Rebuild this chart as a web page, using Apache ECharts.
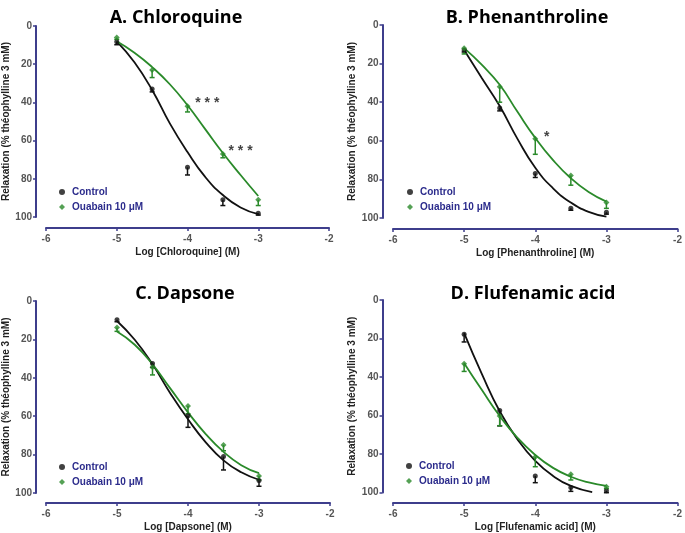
<!DOCTYPE html>
<html>
<head>
<meta charset="utf-8">
<script src="https://cdn.jsdelivr.net/npm/echarts@6/dist/echarts.min.js"></script>
<style>html,body{margin:0;padding:0;background:#fff}#c{width:685px;height:533px}</style>
</head>
<body>
<div id="c"></div>
<script>
// ---- data ----
const doseX = [-5, -4.5, -4, -3.5, -3];
const fitX = [-5, -4.75, -4.5, -4.25, -4, -3.75, -3.5, -3.25, -3];
const fitXDControl = [-5, -4.75, -4.5, -4.25, -4, -3.75, -3.5, -3.2];

const titles = ['A. Chloroquine', 'B. Phenanthroline', 'C. Dapsone', 'D. Flufenamic acid'];
const xNames = ['Log [Chloroquine] (M)', 'Log [Phenanthroline] (M)', 'Log [Dapsone] (M)', 'Log [Flufenamic acid] (M)'];
const yName = 'Relaxation (% théophylline 3 mM)';
const seriesNames = ['Control', 'Ouabain 10 μM'];
const xTicks = [-6, -5, -4, -3, -2];
const yTicks = [0, 20, 40, 60, 80, 100];

const ctrlA = [8.3, 33, 74, 91, 98];
const ouabA = [6, 23, 42, 67, 91];
const ctrlAErr = [1.5, 1.5, 4, 3, 1];
const ouabAErr = [1, 4, 3, 2, 3];
const ctrlAFit = [8, 19, 33.5, 51, 66, 79, 88.5, 95, 98.5];
const ouabAFit = [8, 14, 21.5, 30.5, 41.5, 54, 66.5, 78, 89];

const ctrlB = [13, 43, 77, 95, 97];
const ouabB = [12, 32, 59, 78, 92];
const ctrlBErr = [1, 1.5, 2, 1, 1];
const ouabBErr = [3, 8, 8, 5, 3];
const ctrlBFit = [13, 27.6, 42, 59, 74, 84.6, 92, 96.8, 99.3];
const ouabBFit = [12, 20.7, 31, 45, 58.5, 70, 79.4, 86.5, 91.5];

const ctrlC = [9.8, 32.6, 59.8, 81, 93.5];
const ouabC = [13.8, 34.5, 54.7, 75, 91.2];
const ctrlCErr = [1, 2, 6, 7, 3];
const ouabCErr = [2, 4, 4, 3, 2];
const ctrlCFit = [10.4, 20.2, 33, 48, 61.6, 73.6, 83, 89.2, 93.1];
const ouabCFit = [15.9, 22.8, 33, 45.5, 58, 69.3, 78.6, 85.5, 89.7];

const ctrlD = [17.8, 57.4, 91.4, 97.4, 99.1];
const ouabD = [33.1, 60.3, 81.6, 90.5, 97];
const ctrlDErr = [4, 8, 3.5, 2, 1];
const ouabDErr = [4, 5, 5, 3, 1];
const ctrlDFit = [17.2, 38.5, 57.8, 72.4, 83.6, 91.4, 96.6, 99.8];
const ouabDFit = [32.8, 46.8, 60.3, 71.6, 80.5, 87.2, 91.8, 94.8, 96.6];

const annotA = [[-3.72, 40.3, '* * *'], [-3.25, 65.3, '* * *']];
const annotB = [[-3.84, 58, '*']];
const annotC = [];
const annotD = [];

// ---- layout / style ----
const panels = [
  {grid: {left: 45, top: 26, width: 284, height: 191}, xo: 11, yo: 10, tx: 171, ty: 4,
   ctrl: ctrlA, ouab: ouabA, ce: ctrlAErr, oe: ouabAErr, cf: ctrlAFit, of: ouabAFit, cfx: fitX, ann: annotA, lg: {left: 54, top: 182}},
  {grid: {left: 393, top: 25, width: 285, height: 193}, xo: 11, yo: 10.5, tx: 522, ty: 4,
   ctrl: ctrlB, ouab: ouabB, ce: ctrlBErr, oe: ouabBErr, cf: ctrlBFit, of: ouabBFit, cfx: fitX, ann: annotB, lg: {left: 402, top: 182}},
  {grid: {left: 46, top: 301, width: 284, height: 193}, xo: 10, yo: 10, tx: 180, ty: 280,
   ctrl: ctrlC, ouab: ouabC, ce: ctrlCErr, oe: ouabCErr, cf: ctrlCFit, of: ouabCFit, cfx: fitX, ann: annotC, lg: {left: 54, top: 457}},
  {grid: {left: 393, top: 300, width: 285, height: 193}, xo: 10.5, yo: 10.5, tx: 528, ty: 280,
   ctrl: ctrlD, ouab: ouabD, ce: ctrlDErr, oe: ouabDErr, cf: ctrlDFit, of: ouabDFit, cfx: fitXDControl, ann: annotD, lg: {left: 401, top: 456}}
];

const BLACK = '#111111';
const GREEN = '#2a8a2a';
const AXIS = '#3e3e8c';
const LEGEND_TXT = '#2c2c8c';
const TICK_TXT = '#555555';

function errSeries(xi, yi, xs, ys, es, color) {
  return {
    type: 'custom', xAxisIndex: xi, yAxisIndex: yi, silent: true, z: 3,
    data: xs.map((x, i) => [x, ys[i], es[i]]),
    renderItem: function (params, api) {
      const x = api.value(0), y = api.value(1), e = api.value(2);
      const p0 = api.coord([x, y]);
      const p1 = api.coord([x, y + e]);
      const st = {stroke: color, lineWidth: 1.5};
      return {type: 'group', children: [
        {type: 'line', shape: {x1: p0[0], y1: p0[1], x2: p1[0], y2: p1[1]}, style: st},
        {type: 'line', shape: {x1: p1[0] - 2.5, y1: p1[1], x2: p1[0] + 2.5, y2: p1[1]}, style: st}
      ]};
    }
  };
}

const option = {
  animation: false,
  backgroundColor: '#fff',
  title: panels.map((p, i) => ({
    text: titles[i], left: p.tx, top: p.ty, textAlign: 'center',
    textStyle: {fontFamily: 'Open Sans', fontWeight: 'bold', fontSize: 18, color: '#000'}
  })),
  legend: panels.map((p, i) => ({
    data: seriesNames.map(n => n + '\u200b'.repeat(i)),
    orient: 'vertical', left: p.lg.left, top: p.lg.top,
    itemWidth: 6, itemHeight: 6, itemGap: 5, selectedMode: false,
    formatter: n => n.replace(/\u200b/g, ''),
    textStyle: {fontFamily: 'Liberation Sans', fontWeight: 'bold', fontSize: 10, color: LEGEND_TXT, padding: [0, 0, 0, 2]}
  })),
  grid: panels.map(p => p.grid),
  xAxis: panels.map((p, i) => ({
    type: 'value', gridIndex: i, min: -6, max: -2, interval: 1, offset: p.xo,
    name: xNames[i], nameLocation: 'middle', nameGap: 19,
    nameTextStyle: {fontFamily: 'Liberation Sans', fontWeight: 'bold', fontSize: 10, color: '#222'},
    axisLine: {onZero: false, lineStyle: {color: AXIS, width: 2}},
    axisTick: {show: true, length: 3, lineStyle: {color: AXIS, width: 1.5}},
    axisLabel: {color: TICK_TXT, fontFamily: 'Liberation Sans', fontWeight: 'bold', fontSize: 10, margin: 6,
      formatter: v => xTicks.includes(v) ? String(v) : ''},
    splitLine: {show: false}
  })),
  yAxis: panels.map((p, i) => ({
    type: 'value', gridIndex: i, min: 0, max: 100, interval: 20, inverse: true, offset: p.yo,
    name: yName, nameLocation: 'middle', nameGap: 25, nameRotate: 90,
    nameTextStyle: {fontFamily: 'Liberation Sans', fontWeight: 'bold', fontSize: 10, color: '#222'},
    axisLine: {onZero: false, lineStyle: {color: AXIS, width: 2}},
    axisTick: {show: true, length: 3, lineStyle: {color: AXIS, width: 1.5}},
    axisLabel: {color: TICK_TXT, fontFamily: 'Liberation Sans', fontWeight: 'bold', fontSize: 10, margin: 4,
      formatter: v => yTicks.includes(v) ? String(v) : ''},
    splitLine: {show: false}
  })),
  series: []
};

panels.forEach((p, i) => {
  const suf = '\u200b'.repeat(i);
  option.series.push(
    {type: 'line', name: 'fit-c' + i, xAxisIndex: i, yAxisIndex: i, data: p.cfx.map((x, k) => [x, p.cf[k]]),
      smooth: 0.5, showSymbol: false, symbol: 'none', lineStyle: {color: BLACK, width: 1.8}, z: 2, silent: true},
    {type: 'line', name: 'fit-o' + i, xAxisIndex: i, yAxisIndex: i, data: fitX.map((x, k) => [x, p.of[k]]),
      smooth: 0.5, showSymbol: false, symbol: 'none', lineStyle: {color: GREEN, width: 1.8}, z: 2, silent: true},
    errSeries(i, i, doseX, p.ctrl, p.ce, BLACK),
    errSeries(i, i, doseX, p.ouab, p.oe, GREEN),
    {type: 'scatter', name: seriesNames[0] + suf, xAxisIndex: i, yAxisIndex: i, data: doseX.map((x, k) => [x, p.ctrl[k]]),
      symbol: 'circle', symbolSize: 5, itemStyle: {color: BLACK}, z: 4},
    {type: 'scatter', name: seriesNames[1] + suf, xAxisIndex: i, yAxisIndex: i, data: doseX.map((x, k) => [x, p.ouab[k]]),
      symbol: 'diamond', symbolSize: 6, itemStyle: {color: GREEN}, z: 4},
    {type: 'scatter', name: 'ann' + i, xAxisIndex: i, yAxisIndex: i, data: p.ann.map(a => ({value: [a[0], a[1]], label: {formatter: a[2]}})),
      symbolSize: 0, silent: true, z: 5,
      label: {show: true, position: 'inside', color: '#111', fontFamily: 'Liberation Sans', fontWeight: 'bold', fontSize: 14}}
  );
});

const chart = echarts.init(document.getElementById('c'), null, {renderer: 'canvas'});
chart.setOption(option);
</script>
</body>
</html>
